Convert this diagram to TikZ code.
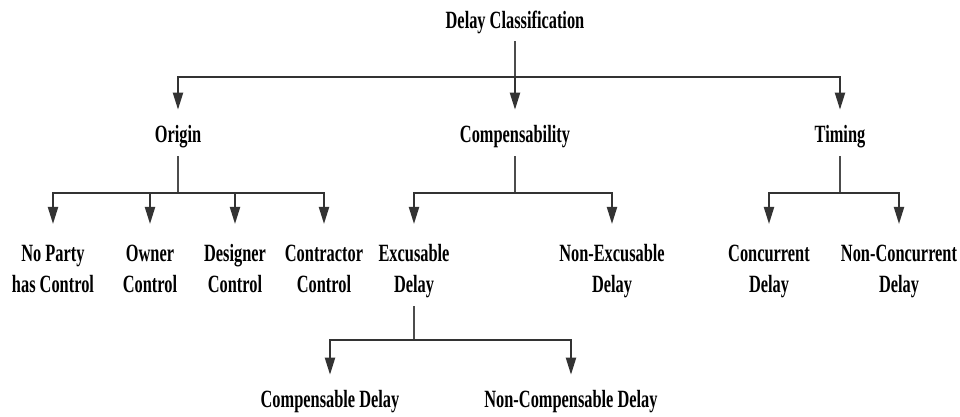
\documentclass[tikz,border=0pt]{standalone}
\usepackage{fontspec}
\setmainfont{Liberation Serif}[FakeStretch=0.66]
\usetikzlibrary{arrows.meta}

\begin{document}
\begin{tikzpicture}[x=0.5pt,y=-0.5pt,
		lbl/.style={font=\bfseries\fontsize{12.4}{15.5}\selectfont, align=center, inner sep=3pt, outer sep=1pt},
		leaf/.style={lbl, anchor=north},
		stub/.style={line width=0.6pt, draw=black!70},
		conn/.style={line width=1pt, draw=black!80, -{Triangle[width=5pt,length=8.5pt]}, shorten >=4pt}]
			\useasboundingbox (0,0) rectangle (960,417);

			% Levels
			\node[lbl] (delay) at (515,22) {Delay Classification};

			\node[lbl] (origin) at (178,137) {Origin};
			\node[lbl] (comp) at (515,137) {Compensability};
			\node[lbl] (timing) at (840,137) {Timing};

			\node[leaf] (noparty) at (53,232) {\strut No Party\\has Control};
			\node[leaf] (owner) at (150,232) {\strut Owner\\Control};
			\node[leaf] (designer) at (235,232) {\strut Designer\\Control};
			\node[leaf] (contractor) at (324,232) {\strut Contractor\\Control};
			\node[leaf] (excus) at (414,232) {\strut Excusable\\Delay};
			\node[leaf] (nonexcus) at (612,232) {\strut Non-Excusable\\Delay};
			\node[leaf] (concur) at (769,232) {\strut Concurrent\\Delay};
			\node[leaf] (nonconcur) at (899,232) {\strut Non-Concurrent\\Delay};

			\node[lbl] (compdelay) at (330,402) {Compensable Delay};
			\node[lbl] (noncompdelay) at (571,402) {Non-Compensable Delay};

			% Branch points
			\coordinate (b0) at (515,77);
			\coordinate (b1) at (178,193);
			\coordinate (b2) at (515,193);
			\coordinate (b3) at (840,193);
			\coordinate (b4) at (414,340);

			\draw[stub] (delay) -- (b0);
			\draw[stub] (origin) -- (b1);
			\draw[stub] (comp) -- (b2);
			\draw[stub] (timing) -- (b3);
			\draw[stub] (excus) -- (b4);

			\draw[conn] (b0) -| (origin);
			\draw[conn] (b0) -- (comp);
			\draw[conn] (b0) -| (timing);

			\draw[conn] (b1) -| (noparty);
			\draw[conn] (b1) -| (owner);
			\draw[conn] (b1) -| (designer);
			\draw[conn] (b1) -| (contractor);

			\draw[conn] (b2) -| (excus);
			\draw[conn] (b2) -| (nonexcus);

			\draw[conn] (b3) -| (concur);
			\draw[conn] (b3) -| (nonconcur);

			\draw[conn] (b4) -| (compdelay);
			\draw[conn] (b4) -| (noncompdelay);
		\end{tikzpicture}
\end{document}
